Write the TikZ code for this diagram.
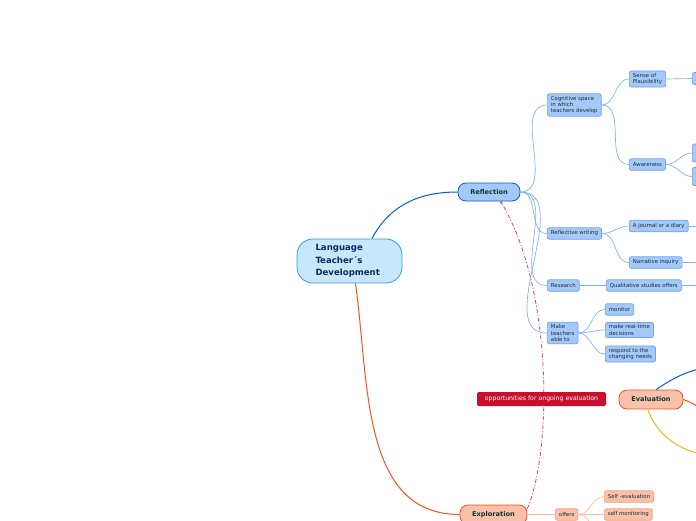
\documentclass[tikz,border=0pt]{standalone}
\usepackage{fontspec}
\setmainfont{DejaVu Sans}
\usepackage{xcolor}
\usepackage{tikz}
\usetikzlibrary{arrows.meta, positioning, calc}
\definecolor{mroot}{HTML}{C6E8FA}
\definecolor{mrootline}{HTML}{3A9BDA}
\definecolor{mnavy}{HTML}{0C2A5E}
\definecolor{mgreen}{HTML}{0C3A2C}
\definecolor{mink}{HTML}{1E2A3A}
\definecolor{mblue}{HTML}{0A5BD6}
\definecolor{mbluefill}{HTML}{A3C9F9}
\definecolor{mblueline}{HTML}{6FA2EC}
\definecolor{mbluelink}{HTML}{86B2EE}
\definecolor{mred}{HTML}{F0531F}
\definecolor{msalmon}{HTML}{F9C1AA}
\definecolor{msalmonline}{HTML}{F7A080}
\definecolor{msalmonlink}{HTML}{F9BCA4}
\definecolor{mcrimson}{HTML}{C8102E}
\definecolor{mrose}{HTML}{D8436A}
\definecolor{myellow}{HTML}{FBB413}
\tikzset{
  mrootbox/.style={draw=mrootline, fill=mroot, thick, rounded corners=16pt, align=left, text=mnavy, font=\fontsize{8.6}{12.5}\selectfont\bfseries, minimum width=105pt, minimum height=44pt, text width=68pt},
  mtopic/.style={draw=mblue, fill=mbluefill, thick, rounded corners=8pt, text=mgreen, font=\fontsize{6.6}{8}\selectfont\bfseries, minimum width=62pt, minimum height=18pt, inner sep=1pt},
  mtopicR/.style={mtopic, draw=mred, fill=msalmon, minimum width=64pt, minimum height=19pt},
  mbox/.style={draw=mblueline, fill=mbluefill, line width=0.7pt, rounded corners=2pt, align=left, text=mink, font=\fontsize{5.4}{6.4}\selectfont, inner xsep=3.6pt, inner ysep=2.2pt, minimum height=11.5pt, anchor=west},
  mboxR/.style={mbox, draw=msalmonline, fill=msalmon},
  mrel/.style={fill=mcrimson, rounded corners=1.5pt, text=white, font=\fontsize{6.2}{7}\selectfont, minimum width=129pt, minimum height=14pt, inner sep=1pt},
  mflow/.style={line width=1pt, mblue},
  mflowR/.style={line width=1pt, mred},
  mflowY/.style={line width=1pt, myellow},
  mlink/.style={line width=0.7pt, mbluelink},
  mlinkR/.style={line width=1pt, msalmonlink},
  mdash/.style={-{Circle[length=2.6pt]}, line width=0.8pt, mrose, dash pattern=on 4pt off 2pt on 1pt off 2pt},
}
\begin{document}
\begin{tikzpicture}[x=1pt, y=-1pt]
    \useasboundingbox (0,0) rectangle (696,520);
    \clip (0,0) rectangle (696,520);
    % main topics
    \node[mrootbox] (root) at (349.5,261) {Language\\Teacher´s\\Development};
    \node[mtopic] (refl) at (489,192) {Reflection};
    \node[mtopicR] (evalu) at (651,399.5) {Evaluation};
    \node[mtopicR, minimum width=67pt] (explo) at (493.5,514.5) {Exploration};
    \draw[mflow] (root.45) to[out=62, in=180] (refl.west);
    \draw[mflowR] (root.-75) to[out=-82, in=180] (explo.west);
    % reflection branch
    \node[mbox] (cog) at (547,105) {Cognitive space\\in which\\teachers develop};
    \node[mbox] (write) at (547,233.5) {Reflective writing};
    \node[mbox] (research) at (547,285.5) {Research};
    \node[mbox] (able) at (547,333) {Make\\teachers\\able to};
    \foreach \n in {cog, write, research, able}
      \draw[mlink] (refl.east) to[out=0, in=180] (\n.west);
    \node[mbox] (sense) at (629,79) {Sense of\\Plausibility};
    \node[mbox] (aware) at (629,164.5) {Awareness};
    \draw[mlink] (cog.east) to[out=0, in=180] (sense.west);
    \draw[mlink] (cog.east) to[out=0, in=180] (aware.west);
    \node[mbox, minimum width=40pt, minimum height=12pt] (sensex) at (692,78.5) {};
    \node[mbox, minimum width=40pt, minimum height=18pt] (awarea) at (692,153) {};
    \node[mbox, minimum width=40pt, minimum height=18pt] (awareb) at (692,176.5) {};
    \draw[mlink] (sense.east) -- (sensex.west);
    \draw[mlink] (aware.east) to[out=0, in=180] (awarea.west);
    \draw[mlink] (aware.east) to[out=0, in=180] (awareb.west);
    \node[mbox] (journal) at (629,226) {A journal or a diary};
    \node[mbox] (narr) at (629,262.5) {Narrative inquiry};
    \draw[mlink] (write.east) to[out=0, in=180] (journal.west);
    \draw[mlink] (write.east) to[out=0, in=180] (narr.west);
    \node[mbox] (quali) at (606,285.5) {Qualitative studies offers};
    \draw[mlink] (research.east) -- (quali.west);
    \coordinate (journalx) at (712,226);
    \coordinate (narrx) at (712,262.5);
    \coordinate (qualix) at (712,285.5);
    \draw[mlink] (journal.east) -- (journalx);
    \draw[mlink] (narr.east) -- (narrx);
    \draw[mlink] (quali.east) -- (qualix);
    \node[mbox] (monitor) at (605,309.5) {monitor};
    \node[mbox] (decide) at (605,330) {make real-time\\decisions};
    \node[mbox] (respond) at (605,354) {respond to the\\changing needs};
    \foreach \n in {monitor, decide, respond}
      \draw[mlink] (able.east) to[out=0, in=180] (\n.west);
    % evaluation branch
    \coordinate (evalup) at (730,366);
    \coordinate (evalmid) at (730,418);
    \coordinate (evallow) at (730,457);
    \draw[mflow] (evalu.62) to[out=35, in=180] (evalup);
    \draw[mflowR] (evalu.east) to[out=-20, in=180] (evalmid);
    \draw[mflowY] (evalu.-108) to[out=-70, in=180] (evallow);
    % exploration branch
    \node[mboxR] (offers) at (555,514.5) {offers};
    \draw[mlinkR] (explo.east) -- (offers.west);
    \node[mboxR] (selfeval) at (604,496.5) {Self -evaluation};
    \node[mboxR] (selfmon) at (604,514.5) {self monitoring};
    \coordinate (offersx) at (604,534);
    \draw[mlinkR, line width=0.7pt] (offers.east) to[out=0, in=180] (selfeval.west);
    \draw[mlinkR, line width=0.7pt] (offers.east) -- (selfmon.west);
    \draw[mlinkR, line width=0.7pt] (offers.east) to[out=0, in=180] (offersx);
    % relationship
    \draw[mdash] (explo.10) .. controls +(25,-59) and +(52,87) .. (refl.-39);
    \node[mrel] (oppo) at (541.5,399) {opportunities for ongoing evaluation};
  \end{tikzpicture}
\end{document}
